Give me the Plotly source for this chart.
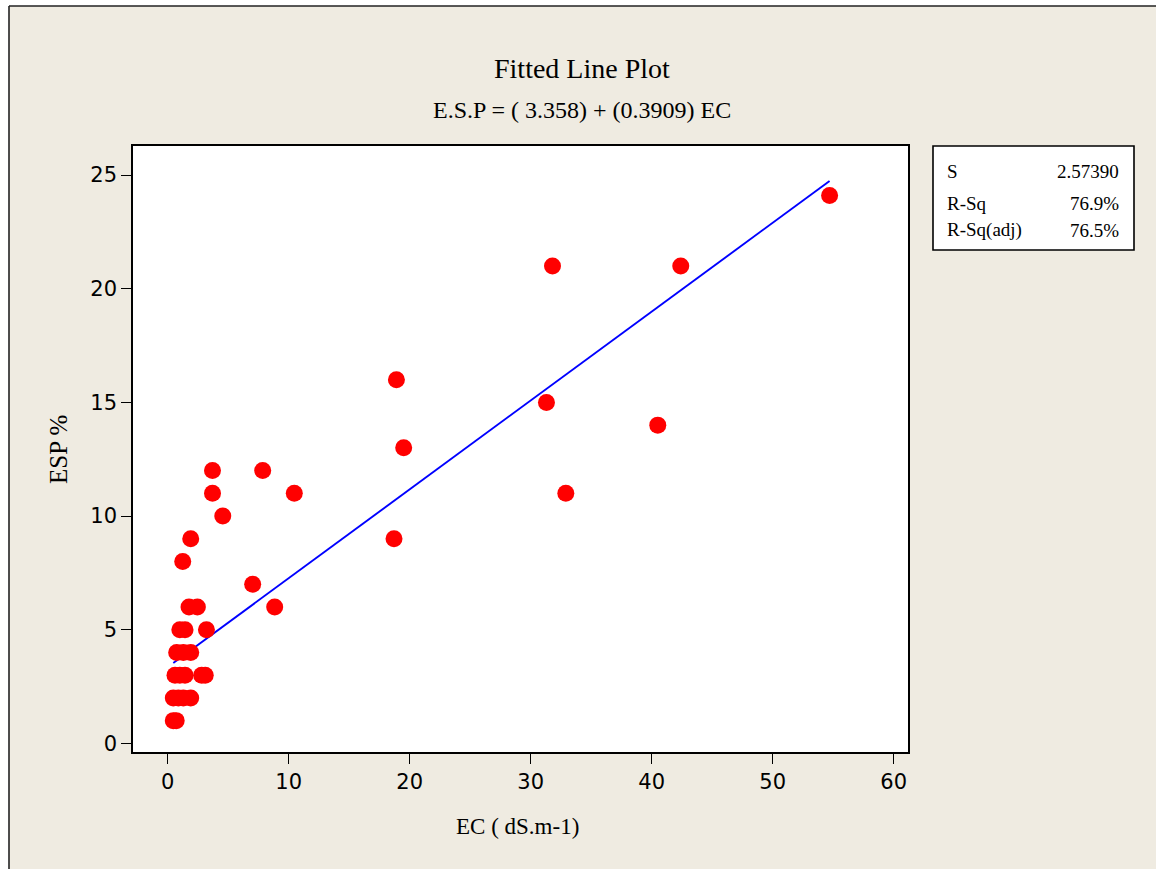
import plotly.graph_objects as go

# ---- data ----
ec = [0.46, 0.7,
      0.46, 0.88, 1.29, 1.9,
      0.6, 1.0, 1.43, 2.8, 3.1,
      0.74, 1.29, 1.9,
      1.0, 1.43, 3.2,
      1.76, 2.45, 8.84,
      7.02,
      1.24,
      1.9, 18.7,
      4.55,
      3.7, 10.46, 32.9,
      3.7, 7.85,
      19.5,
      40.5,
      31.3,
      18.9,
      31.8, 42.4,
      54.7]
esp = [1, 1,
       2, 2, 2, 2,
       3, 3, 3, 3, 3,
       4, 4, 4,
       5, 5, 5,
       6, 6, 6,
       7,
       8,
       9, 9,
       10,
       11, 11, 11,
       12, 12,
       13,
       14,
       15,
       16,
       21, 21,
       24.1]
intercept = 3.358
slope = 0.3909
stat_labels = ["S", "R-Sq", "R-Sq(adj)"]
stat_values = ["2.57390", "76.9%", "76.5%"]
x_ticks = [0, 10, 20, 30, 40, 50, 60]
y_ticks = [0, 5, 10, 15, 20, 25]

W, H = 1156, 869
L, R, T, B = 133, 908, 146, 752  # plot area in pixels


def pxx(p):
    return (p - L) / (R - L)


def pxy(p):
    return (B - p) / (B - T)


BEIGE = "#EFEBE1"
SERIF = "Liberation Serif, Times New Roman, serif"
SANS = "DejaVu Sans, Verdana, sans-serif"

line_x = [min(ec), max(ec)]
line_y = [intercept + slope * v for v in line_x]

fig = go.Figure()
fig.add_trace(go.Scatter(x=line_x, y=line_y, mode="lines",
                         line=dict(color="#0000FF", width=1.9),
                         hoverinfo="skip", showlegend=False))
fig.add_trace(go.Scatter(x=ec, y=esp, mode="markers",
                         marker=dict(color="#FF0000", size=17,
                                     line=dict(width=0)),
                         showlegend=False))

axis_common = dict(showgrid=False, zeroline=False, showline=True,
                   linecolor="black", linewidth=1.6, mirror=True,
                   ticks="outside", ticklen=10, tickwidth=1.4,
                   tickcolor="black",
                   tickfont=dict(family=SANS, size=21, color="black"))

fig.update_xaxes(range=[-2.87, 61.18], tickvals=x_ticks, **axis_common)
fig.update_yaxes(range=[-0.38, 26.28], tickvals=y_ticks, **axis_common)

shapes = [
    # white strips outside the frame
    dict(type="rect", xref="paper", yref="paper", x0=pxx(-20), x1=pxx(9),
         y0=pxy(900), y1=pxy(-20), fillcolor="white", line=dict(width=0),
         layer="above"),
    dict(type="rect", xref="paper", yref="paper", x0=pxx(-20), x1=pxx(1200),
         y0=pxy(6), y1=pxy(-20), fillcolor="white", line=dict(width=0),
         layer="above"),
    # frame lines
    dict(type="line", xref="paper", yref="paper", x0=pxx(9), x1=pxx(9),
         y0=pxy(6), y1=pxy(900), line=dict(color="#222222", width=1.6)),
    dict(type="line", xref="paper", yref="paper", x0=pxx(9), x1=pxx(1200),
         y0=pxy(6), y1=pxy(6), line=dict(color="#222222", width=1.6)),
    # stats box
    dict(type="rect", xref="paper", yref="paper", x0=pxx(933), x1=pxx(1134),
         y0=pxy(250), y1=pxy(146), fillcolor="white",
         line=dict(color="black", width=1.6)),
]

annotations = [
    dict(text="Fitted Line Plot", x=pxx(582), y=pxy(68), xref="paper",
         yref="paper", showarrow=False, xanchor="center", yanchor="middle",
         font=dict(family=SERIF, size=28, color="black")),
    dict(text="E.S.P = ( 3.358) + (0.3909) EC", x=pxx(582), y=pxy(110),
         xref="paper", yref="paper", showarrow=False, xanchor="center",
         yanchor="middle", font=dict(family=SERIF, size=24, color="black")),
    dict(text="EC ( dS.m-1)", x=pxx(517), y=pxy(826), xref="paper",
         yref="paper", showarrow=False, xanchor="center", yanchor="middle",
         font=dict(family=SERIF, size=23, color="black")),
    dict(text="ESP %", x=pxx(58), y=pxy(450), xref="paper", yref="paper",
         showarrow=False, xanchor="center", yanchor="middle", textangle=-90,
         font=dict(family=SERIF, size=25, color="black")),
]
row_y = [171, 203, 230]
for lab, val, ry in zip(stat_labels, stat_values, row_y):
    annotations.append(dict(text=lab, x=pxx(945), y=pxy(ry), xref="paper",
                            yref="paper", showarrow=False, xanchor="left",
                            yanchor="middle",
                            font=dict(family=SERIF, size=19, color="black")))
    annotations.append(dict(text=val, x=pxx(1121), y=pxy(ry), xref="paper",
                            yref="paper", showarrow=False, xanchor="right",
                            yanchor="middle",
                            font=dict(family=SERIF, size=19, color="black")))

fig.update_layout(width=W, height=H, autosize=False,
                  margin=dict(l=L, r=W - R, t=T, b=H - B, pad=0),
                  paper_bgcolor=BEIGE, plot_bgcolor="white",
                  shapes=shapes, annotations=annotations,
                  showlegend=False)

fig.write_html("out.html", config={"displayModeBar": False},
               post_script="document.body.style.margin='0';document.body.style.overflow='hidden';")
